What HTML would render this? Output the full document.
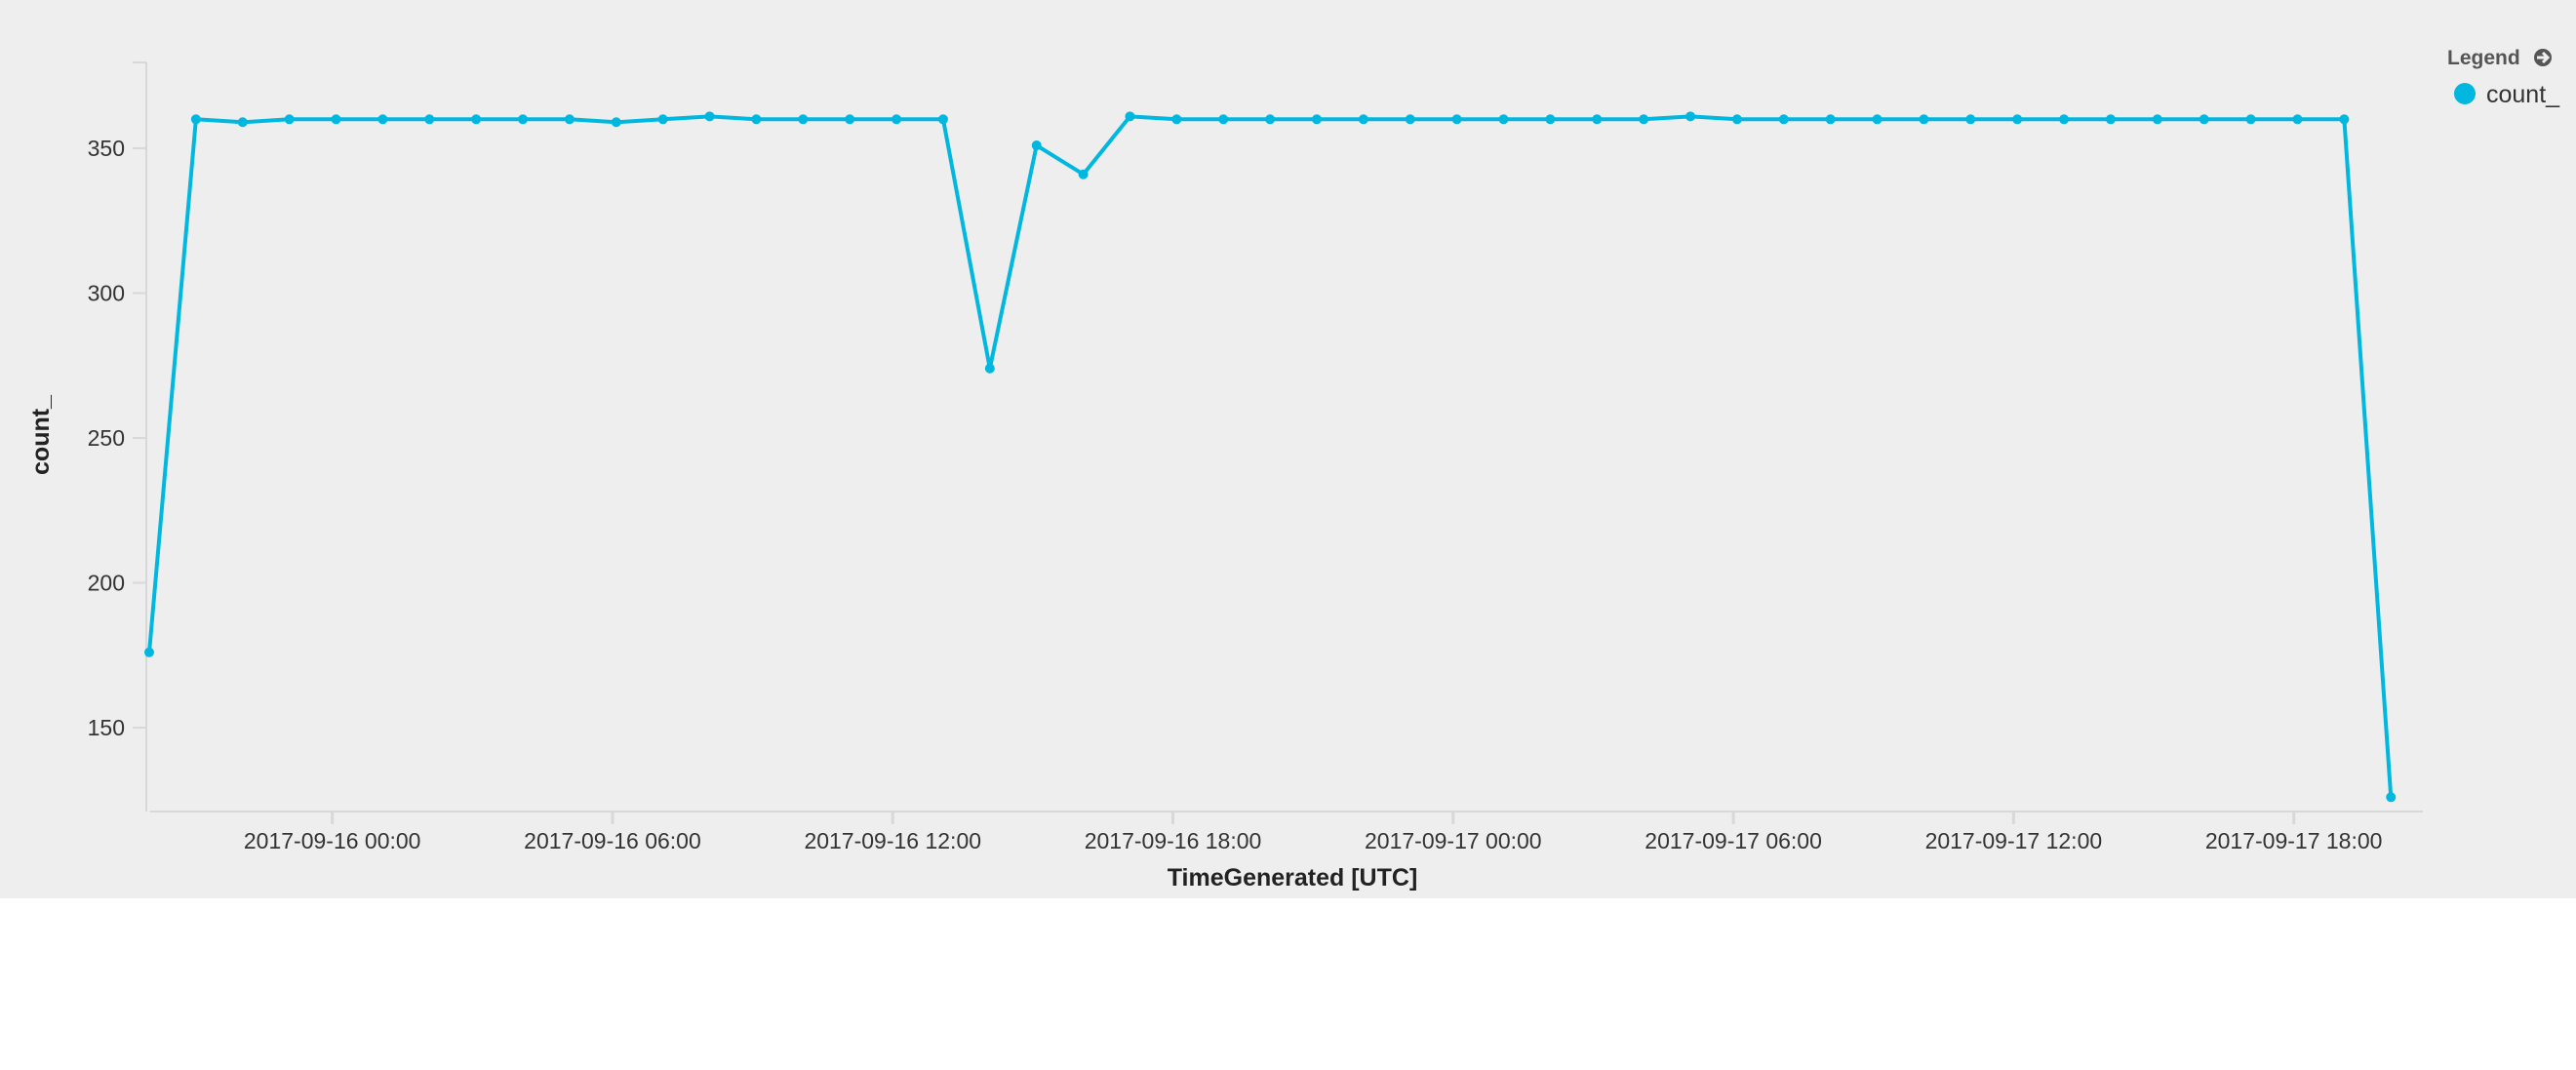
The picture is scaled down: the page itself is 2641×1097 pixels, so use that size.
<!DOCTYPE html>
<html><head><meta charset="utf-8"><style>
html,body{margin:0;padding:0;background:#fff;}
svg{display:block;font-family:"Segoe UI","Liberation Sans",sans-serif;}
</style></head><body>
<svg id="chart" width="2641" height="1097" viewBox="0 0 2641 1097">
<rect x="0" y="0" width="2641" height="921" fill="#eeeeee"/>
<g id="axes"></g>
<g id="series"></g>
<text x="50" y="446" transform="rotate(-90 50 446)" text-anchor="middle" font-size="25" font-weight="bold" fill="#222">count_</text>
<text x="1325" y="908" text-anchor="middle" font-size="25" font-weight="bold" fill="#222">TimeGenerated [UTC]</text>
<g>
<text x="2509" y="66" font-size="21" font-weight="bold" fill="#555">Legend</text>
<circle cx="2607" cy="59" r="9" fill="#555"/>
<path d="M2601 59 H2611 M2607 54 L2612 59 L2607 64" stroke="#eee" stroke-width="3" fill="none"/>
<circle cx="2527" cy="96" r="11" fill="#00b7e0"/>
<text x="2549" y="105" font-size="25" fill="#333">count_</text>
</g>
</svg>
<script>
const hours = [0,1,2,3,4,5,6,7,8,9,10,11,12,13,14,15,16,17,18,19,20,21,22,23,24,25,26,27,28,29,30,31,32,33,34,35,36,37,38,39,40,41,42,43,44,45,46,47,48];
const counts = [176,360,359,360,360,360,360,360,360,360,359,360,361,360,360,360,360,360,274,351,341,361,360,360,360,360,360,360,360,360,360,360,360,361,360,360,360,360,360,360,360,360,360,360,360,360,360,360,126];
const yTicks = [150,200,250,300,350];
const xTickHours = [3.92,9.92,15.92,21.92,27.92,33.92,39.92,45.92];
const xTickLabels = ["2017-09-16 00:00","2017-09-16 06:00","2017-09-16 12:00","2017-09-16 18:00","2017-09-17 00:00","2017-09-17 06:00","2017-09-17 12:00","2017-09-17 18:00"];

const NS="http://www.w3.org/2000/svg";
function X(h){return 153 + h*47.88;}
function Y(v){return 152 + (350-v)*2.97;}
function mk(tag,attrs,parent){const e=document.createElementNS(NS,tag);for(const k in attrs)e.setAttribute(k,attrs[k]);parent.appendChild(e);return e;}
const axes=document.getElementById('axes');
const ser=document.getElementById('series');

let yl=mk('line',{x1:150,y1:64,x2:150,y2:832,stroke:'#d8d8d8','stroke-width':2},axes);


let xl=mk('line',{x1:154,y1:832,x2:2484,y2:832,stroke:'#d8d8d8','stroke-width':2},axes);


let tt=mk('line',{x1:136,y1:64,x2:150,y2:64,stroke:'#d8d8d8','stroke-width':2},axes);


yTicks.forEach(v=>{
  const y=Y(v);
  const t=mk('line',{x1:136,y1:y,x2:150,y2:y,stroke:'#d8d8d8','stroke-width':2},axes);
  
  
  const l=mk('text',{x:128,y:y+8,'text-anchor':'end','font-size':23,fill:'#333'},axes);
  l.textContent=v;
  
  
});
xTickHours.forEach((h,i)=>{
  const x=X(h);
  const t=mk('line',{x1:x,y1:832,x2:x,y2:845,stroke:'#d8d8d8','stroke-width':3},axes);
  
  
  const l=mk('text',{x:x,y:870,'text-anchor':'middle','font-size':23,fill:'#333'},axes);
  l.textContent=xTickLabels[i];
  
  
});
const pts=hours.map((h,i)=>X(h)+','+Y(counts[i])).join(' ');
const pl=mk('polyline',{points:pts,fill:'none',stroke:'#00b7e0','stroke-width':4,'stroke-linejoin':'round'},ser);


hours.forEach((h,i)=>{
  const c=mk('circle',{cx:X(h),cy:Y(counts[i]),r:5,fill:'#00b7e0'},ser);
  
  
});
</script>
</body></html>
